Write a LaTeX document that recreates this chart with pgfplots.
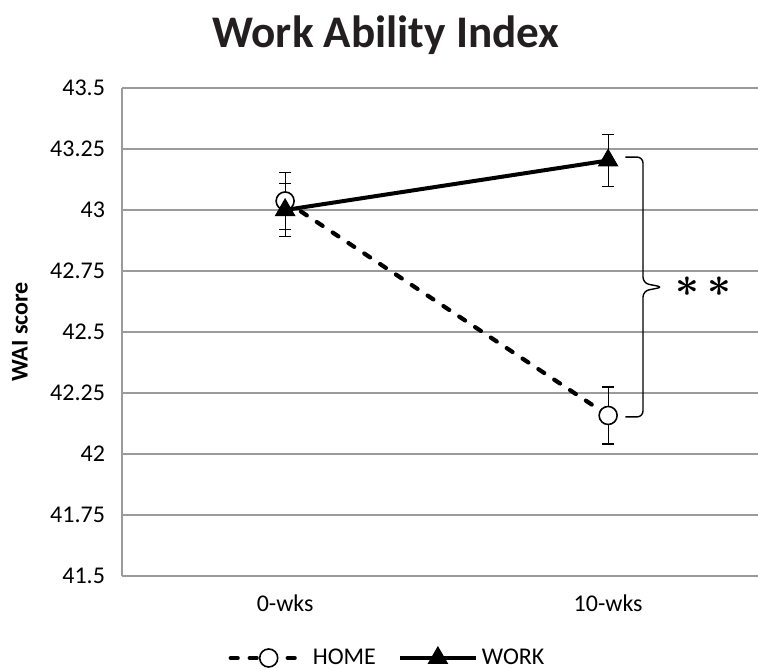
\documentclass[border=0pt]{standalone}
\usepackage{fontspec}
\setmainfont{Carlito}
\usepackage{pgfplots}
\pgfplotsset{compat=1.18}
\definecolor{gridgray}{RGB}{155,155,155}
\definecolor{titleblack}{RGB}{35,31,32}
\begin{document}
\begin{tikzpicture}
\begin{axis}[
  at={(61pt,46.5pt)}, anchor=south west,
  scale only axis, width=318pt, height=244pt,
  xmin=-0.505, xmax=1.464, ymin=41.5, ymax=43.5,
  xtick={0,1}, xticklabels={0-wks,10-wks},
  ytick={41.5,41.75,42,42.25,42.5,42.75,43,43.25,43.5},
  yticklabels={41.5,41.75,42,42.25,42.5,42.75,43,43.25,43.5},
  axis x line*=bottom, axis y line*=left,
  axis line style={gridgray, line width=0.8pt, -},
  ymajorgrids, grid style={gridgray, line width=0.8pt},
  major tick length=0pt, tick style={draw=none},
  tick label style={font=\fontsize{12}{14}\selectfont, text=black},
  yticklabel style={xshift=-5pt},
  xticklabel style={yshift=-6pt},
  clip=false,
  legend style={at={(0.419,-0.168)}, anchor=center, draw=none, fill=none,
    legend columns=2, font=\fontsize{12}{14}\selectfont,
    /tikz/every even column/.append style={column sep=9pt}},
  legend image code/.code={\draw[mark repeat=2,mark phase=2,#1] plot coordinates {(0pt,0pt) (19pt,0pt) (38pt,0pt)};},
]
\addplot[black, line width=2.1pt, line cap=round, dash pattern=on 3.5pt off 6pt,
  mark=*, mark size=4.5pt, mark options={solid, fill=white, line width=0.8pt},
  error bars/.cd, y dir=both, y explicit,
  error bar style={line width=0.6pt, solid, line cap=butt},
  error mark options={rotate=90, mark size=3pt, line width=0.6pt, solid}]
  coordinates {(0,43.037) +- (0,0.118) (1,42.158) +- (0,0.117)};
\addlegendentry{HOME}
\addplot[black, line width=2pt,
  mark=triangle*, mark size=5.5pt, mark options={solid, fill=black, line width=0.5pt},
  error bars/.cd, y dir=both, y explicit,
  error bar style={line width=0.6pt, solid},
  error mark options={rotate=90, mark size=3pt, line width=0.6pt, solid}]
  coordinates {(0,43.0) +- (0,0.11) (1,43.203) +- (0,0.107)};
\addlegendentry{WORK}
% significance brace
\draw[black, line width=0.7pt, rounded corners=3pt]
  (axis cs:1.053,43.217) -- (axis cs:1.108,43.217) -- (axis cs:1.108,42.70)
  -- (axis cs:1.170,42.684) -- (axis cs:1.108,42.668) -- (axis cs:1.108,42.152)
  -- (axis cs:1.053,42.152);
\node[font=\fontsize{20}{20}\selectfont\boldmath] at (axis cs:1.294,42.684) {${\ast}\mkern3mu{\ast}$};
\end{axis}
\node[text=titleblack, font=\fontsize{22.6}{26}\selectfont\bfseries] at (193pt,317pt) {Work Ability Index};
\node[rotate=90, font=\fontsize{12}{14}\selectfont\bfseries] at (10pt,168.5pt) {WAI score};
\pgfresetboundingbox
\path[use as bounding box] (0,0) rectangle (379pt,334.5pt);
\end{tikzpicture}
\end{document}
